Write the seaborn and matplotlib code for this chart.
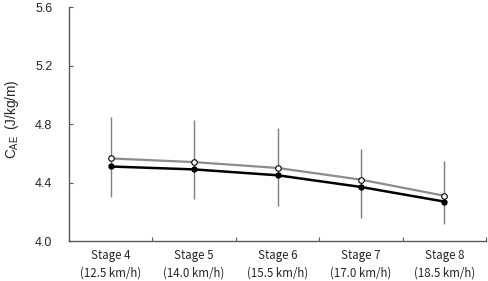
import numpy as np
import pandas as pd
import seaborn as sns
import matplotlib.pyplot as plt

# Data
stages = ['Stage 4\n(12.5 km/h)', 'Stage 5\n(14.0 km/h)', 'Stage 6\n(15.5 km/h)',
          'Stage 7\n(17.0 km/h)', 'Stage 8\n(18.5 km/h)']
open_vals = [4.565, 4.54, 4.50, 4.42, 4.31]
filled_vals = [4.51, 4.49, 4.45, 4.37, 4.27]
err_top = [4.85, 4.83, 4.77, 4.63, 4.55]
err_bottom = [4.30, 4.29, 4.24, 4.16, 4.12]

sns.set_style('ticks')
plt.rcParams['font.family'] = ['Liberation Sans', 'DejaVu Sans']

df = pd.DataFrame({'x': np.arange(len(stages)), 'open': open_vals, 'filled': filled_vals})

fig = plt.figure(figsize=(4.89, 2.81), dpi=100)
ax = fig.add_axes([0.141, 0.142, 0.853, 0.833])

# Vertical spread bars (gray, no caps)
ax.vlines(df['x'], err_bottom, err_top, color='#7f7f7f', linewidth=1.0, zorder=1)

# Gray line with open markers
sns.lineplot(data=df, x='x', y='open', ax=ax, color='#8c8c8c', linewidth=1.6,
             marker='o', markersize=4.0, markerfacecolor='white',
             markeredgecolor='black', markeredgewidth=0.8, zorder=3)
# Black line with filled markers
sns.lineplot(data=df, x='x', y='filled', ax=ax, color='black', linewidth=1.8,
             marker='o', markersize=3.8, markerfacecolor='black',
             markeredgecolor='black', zorder=4)

ax.set_xlim(-0.5, len(stages) - 0.5)
ax.set_ylim(4.0, 5.6)
ax.set_yticks([4.0, 4.4, 4.8, 5.2, 5.6])
ax.set_yticklabels(['4.0', '4.4', '4.8', '5.2', '5.6'])

# category labels at centers, tick marks at category boundaries
ax.set_xticks(df['x'])
ax.set_xticklabels(stages, fontsize=8.3, linespacing=1.45, family=['Noto Sans CJK JP', 'DejaVu Sans'])
ax.tick_params(axis='x', which='major', length=0, pad=6, labelcolor='#262626')
ax.set_xticks(np.arange(-0.5, len(stages), 1.0), minor=True)
ax.tick_params(axis='x', which='minor', direction='in', length=3, width=0.8, color='#595959')
ax.tick_params(axis='y', direction='in', length=3, width=0.8, color='#595959',
               labelsize=9, pad=12, labelcolor='#262626')

ax.set_xlabel('')
ax.set_ylabel('C$_{\\mathregular{AE}}$$\\,$ (J/kg/m)', fontsize=9.8, labelpad=9, color='#262626')
ax.yaxis.set_label_coords(-0.115, 0.52)

for side in ['top', 'right']:
    ax.spines[side].set_visible(False)
for side in ['left', 'bottom']:
    ax.spines[side].set_color('#595959')
    ax.spines[side].set_linewidth(1.0)

fig.savefig('out.png', dpi=100)
